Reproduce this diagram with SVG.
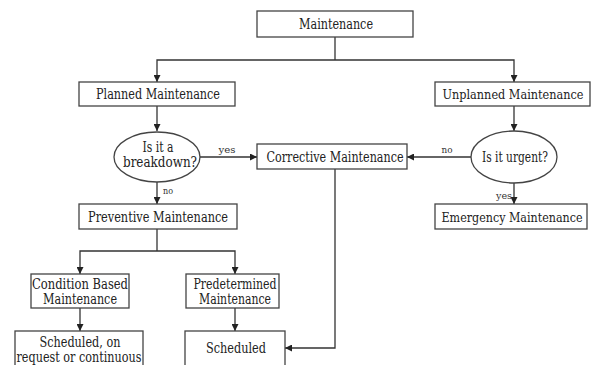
<svg xmlns="http://www.w3.org/2000/svg" width="592" height="365" viewBox="0 0 592 365">
<defs>
<marker id="arr" viewBox="0 0 8 8" refX="8" refY="4" markerWidth="7" markerHeight="7" markerUnits="userSpaceOnUse" orient="auto">
<path d="M0,0 L8,4 L0,8 Z" fill="#222"/>
</marker>
<style>
rect, ellipse { fill: #fff; stroke: #444; stroke-width: 1.3; }
.t { font-size: 14px; fill: #222; text-anchor: middle; }
.n { font-size: 13px; }
.s { font-size: 10px; fill: #333; text-anchor: middle; }
.c { fill: none; stroke: #333; stroke-width: 1.3; }
.a { marker-end: url(#arr); }
</style>
</defs>
<rect x="0" y="0" width="592" height="365" style="fill:#fff;stroke:none"/>
<g font-family="'DejaVu Serif Condensed', 'Liberation Serif', 'DejaVu Serif', serif">
<g id="connectors">
<path class="c" d="M335,37 V60"/>
<path class="c a" d="M335,60 H157 V82"/>
<path class="c a" d="M335,60 H514 V82"/>
<path class="c a" d="M157,106 V131"/>
<path class="c a" d="M514,106 V131"/>
<path class="c a" d="M200,157 H257"/>
<path class="c a" d="M471,157 H407"/>
<path class="c a" d="M157,182 V204"/>
<path class="c a" d="M514,183 V204"/>
<path class="c" d="M157,229 V251"/>
<path class="c a" d="M157,251 H80 V274"/>
<path class="c a" d="M157,251 H235 V274"/>
<path class="c a" d="M80,308 V331"/>
<path class="c a" d="M235,308 V331"/>
<path class="c a" d="M335,169 V348 H285"/>
<text class="s" x="227" y="153" textLength="17" lengthAdjust="spacingAndGlyphs">yes</text>
<text class="s" x="447" y="153" textLength="11" lengthAdjust="spacingAndGlyphs">no</text>
<text class="s" x="168" y="194" textLength="10" lengthAdjust="spacingAndGlyphs">no</text>
<text class="s" x="504" y="199" textLength="16" lengthAdjust="spacingAndGlyphs">yes</text>
</g>
<g id="maintenance">
<rect x="257" y="11" width="156" height="26"/>
<text class="t" x="336" y="29" textLength="74" lengthAdjust="spacingAndGlyphs">Maintenance</text>
</g>
<g id="planned">
<rect x="79" y="82" width="156" height="24"/>
<text class="t" x="158" y="99" textLength="124" lengthAdjust="spacingAndGlyphs">Planned Maintenance</text>
</g>
<g id="unplanned">
<rect x="435" y="82" width="155" height="24"/>
<text class="t n" x="513" y="99" textLength="141" lengthAdjust="spacingAndGlyphs">Unplanned Maintenance</text>
</g>
<g id="breakdown">
<ellipse cx="157" cy="157" rx="43" ry="25"/>
<text class="t" x="158" y="152" textLength="31" lengthAdjust="spacingAndGlyphs">Is it a</text>
<text class="t" x="160" y="167" textLength="74" lengthAdjust="spacingAndGlyphs">breakdown?</text>
</g>
<g id="corrective">
<rect x="257" y="144" width="150" height="25"/>
<text class="t" x="335" y="162" textLength="137" lengthAdjust="spacingAndGlyphs">Corrective Maintenance</text>
</g>
<g id="urgent">
<ellipse cx="514" cy="157" rx="43" ry="26"/>
<text class="t" x="515" y="162" textLength="66" lengthAdjust="spacingAndGlyphs">Is it urgent?</text>
</g>
<g id="preventive">
<rect x="79" y="204" width="158" height="25"/>
<text class="t" x="158" y="222" textLength="140" lengthAdjust="spacingAndGlyphs">Preventive Maintenance</text>
</g>
<g id="emergency">
<rect x="435" y="204" width="152" height="25"/>
<text class="t n" x="512" y="222" textLength="141" lengthAdjust="spacingAndGlyphs">Emergency Maintenance</text>
</g>
<g id="condition">
<rect x="31" y="274" width="98" height="34"/>
<text class="t" x="80" y="289" textLength="96" lengthAdjust="spacingAndGlyphs">Condition Based</text>
<text class="t" x="80" y="304" textLength="74" lengthAdjust="spacingAndGlyphs">Maintenance</text>
</g>
<g id="predetermined">
<rect x="186" y="274" width="93" height="34"/>
<text class="t" x="235" y="289" textLength="83" lengthAdjust="spacingAndGlyphs">Predetermined</text>
<text class="t" x="235" y="304" textLength="72" lengthAdjust="spacingAndGlyphs">Maintenance</text>
</g>
<g id="scheduled-on-request">
<rect x="15" y="331" width="128" height="40"/>
<text class="t" x="80" y="347" textLength="81" lengthAdjust="spacingAndGlyphs">Scheduled, on</text>
<text class="t" x="79" y="362" textLength="125" lengthAdjust="spacingAndGlyphs">request or continuous</text>
</g>
<g id="scheduled">
<rect x="185" y="331" width="100" height="40"/>
<text class="t" x="236" y="353" textLength="60" lengthAdjust="spacingAndGlyphs">Scheduled</text>
</g>
</g>
</svg>
